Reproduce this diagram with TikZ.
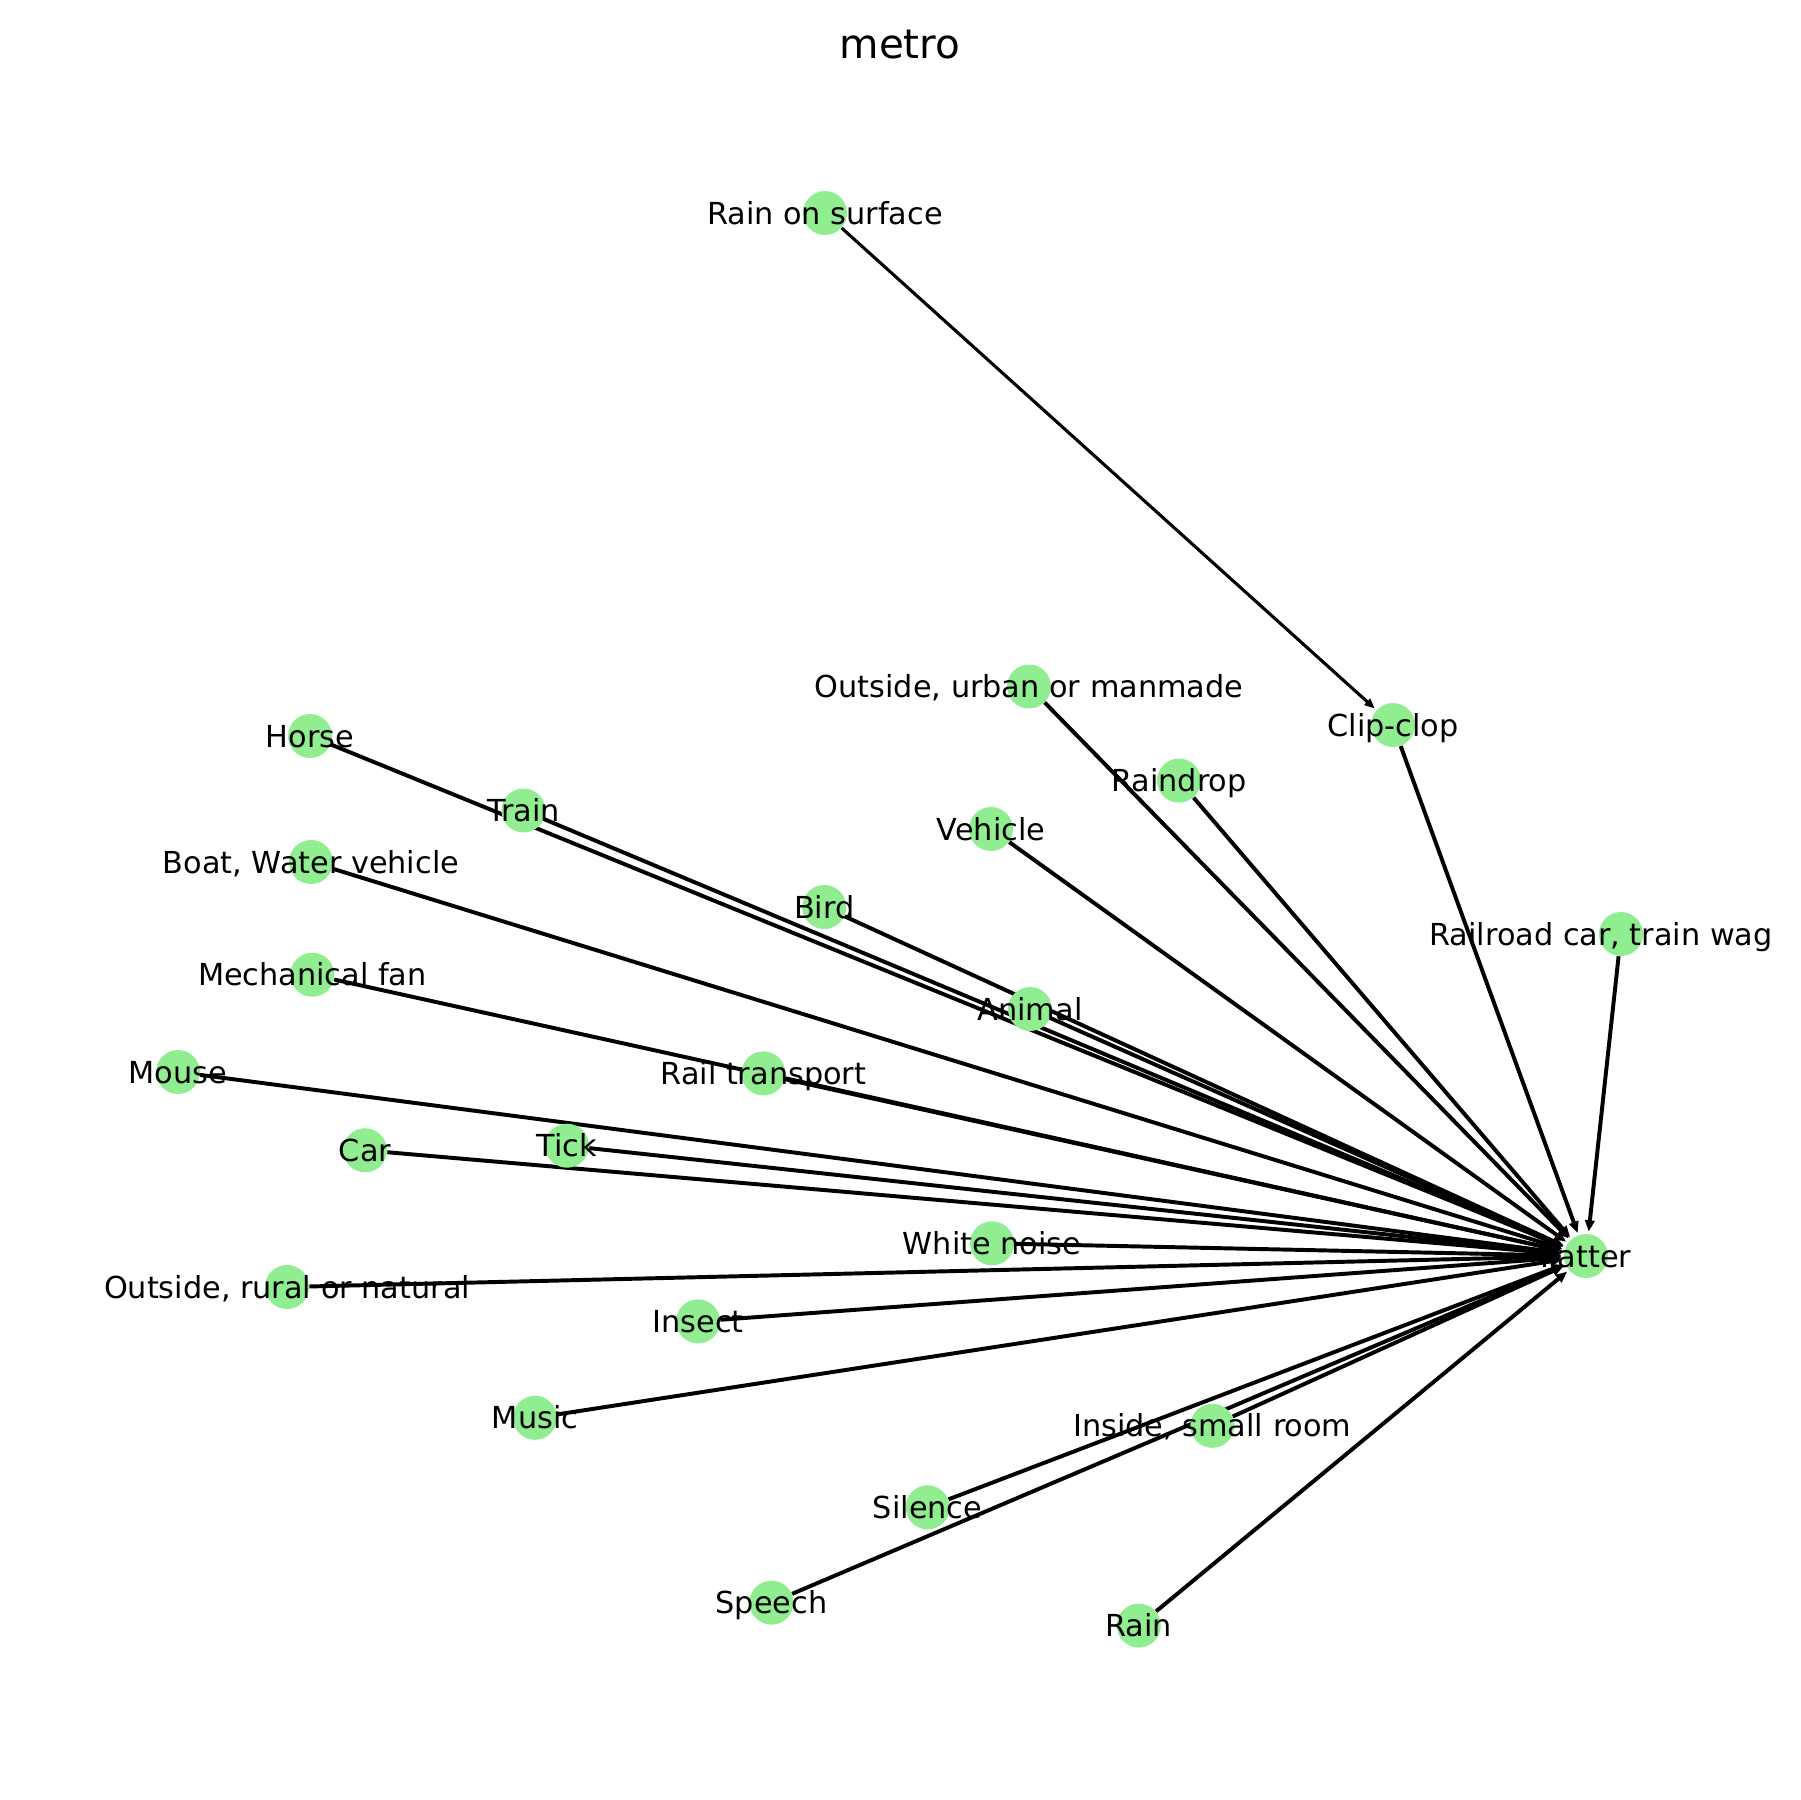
\documentclass[tikz,border=0pt]{standalone}
\usepackage{fontspec}
\setmainfont{DejaVu Sans}
\usetikzlibrary{arrows.meta}
\pgfdeclarelayer{bg}
\pgfsetlayers{bg,main}
\definecolor{nodegreen}{HTML}{90EE90}
\tikzset{
  vtx/.style={circle, fill=nodegreen, draw=none, minimum size=21.2pt, inner sep=0pt},
  lbl/.style={font=\fontsize{14.6}{17}\selectfont, inner sep=0pt, text height=10.66pt, text depth=0pt, anchor=center},
  link/.style={line width=1.9pt, -{Triangle[length=5.5pt,width=4.5pt]}, shorten >=1pt},
  thinlink/.style={line width=1.5pt, -{Triangle[length=5pt,width=4pt]}, shorten >=1pt},
  ttl/.style={font=\fontsize{19.5}{23}\selectfont, inner sep=0pt, anchor=base}
}
\begin{document}
\begin{tikzpicture}[x=0.4818pt,y=-0.4818pt]
\useasboundingbox (0,0) rectangle (1800,1800);
\node[ttl] (title) at (900,59) {metro};
% vertices
\node[vtx] (rs) at (825,213) {};
\node[vtx] (cc) at (1393,725) {};
\node[vtx] (ou) at (1029,686.5) {};
\node[vtx] (rd) at (1179,780.6) {};
\node[vtx] (ve) at (991,829) {};
\node[vtx] (rc) at (1621,934) {};
\node[vtx] (ho) at (310,736) {};
\node[vtx] (tr) at (523.5,810.5) {};
\node[vtx] (bo) at (311,862) {};
\node[vtx] (bi) at (824.3,907) {};
\node[vtx] (mf) at (312.3,974.7) {};
\node[vtx] (an) at (1030,1009) {};
\node[vtx] (mo) at (178,1072) {};
\node[vtx] (rt) at (763.4,1073.4) {};
\node[vtx] (ca) at (365,1150.3) {};
\node[vtx] (ti) at (567,1145.7) {};
\node[vtx] (wn) at (992,1243.3) {};
\node[vtx] (pa) at (1586,1256) {};
\node[vtx] (orn) at (287,1287) {};
\node[vtx] (ins) at (698,1321.4) {};
\node[vtx] (mu) at (535,1417.8) {};
\node[vtx] (isr) at (1212.3,1425.8) {};
\node[vtx] (si) at (927.6,1507.3) {};
\node[vtx] (sp) at (771.5,1602.6) {};
\node[vtx] (ra) at (1138.8,1625.6) {};
% edges
\begin{pgfonlayer}{bg}
\fill[white] (0,0) rectangle (1800,1800);
\draw[thinlink] (rs) -- (cc);
\foreach \s in {cc,ou,rd,ve,rc,ho,tr,bo,bi,mf,an,mo,rt,ca,ti,wn,orn,ins,mu,isr,si,sp,ra}
  \draw[link] (\s) -- (pa);
\end{pgfonlayer}
% labels
\node[lbl] (lrs) at (rs.center) {Rain on surface};
\node[lbl] (lcc) at (cc.center) {Clip-clop};
\node[lbl] (lou) at (ou.center) {Outside, urban or manmade};
\node[lbl] (lrd) at (rd.center) {Raindrop};
\node[lbl] (lve) at (ve.center) {Vehicle};
\node[lbl, anchor=west] (lrc) at ([xshift=-92.5pt]rc.center) {Railroad car, train wag};
\node[lbl] (lho) at (ho.center) {Horse};
\node[lbl] (ltr) at (tr.center) {Train};
\node[lbl] (lbo) at (bo.center) {Boat, Water vehicle};
\node[lbl] (lbi) at (bi.center) {Bird};
\node[lbl] (lmf) at (mf.center) {Mechanical fan};
\node[lbl] (lan) at (an.center) {Animal};
\node[lbl] (lmo) at (mo.center) {Mouse};
\node[lbl] (lrt) at (rt.center) {Rail transport};
\node[lbl] (lca) at (ca.center) {Car};
\node[lbl] (lti) at (ti.center) {Tick};
\node[lbl] (lwn) at (wn.center) {White noise};
\node[lbl] (lpa) at (pa.center) {Patter};
\node[lbl] (lorn) at (orn.center) {Outside, rural or natural};
\node[lbl] (lins) at (ins.center) {Insect};
\node[lbl] (lmu) at (mu.center) {Music};
\node[lbl] (lisr) at (isr.center) {Inside, small room};
\node[lbl] (lsi) at (si.center) {Silence};
\node[lbl] (lsp) at (sp.center) {Speech};
\node[lbl] (lra) at (ra.center) {Rain};
\end{tikzpicture}
\end{document}
